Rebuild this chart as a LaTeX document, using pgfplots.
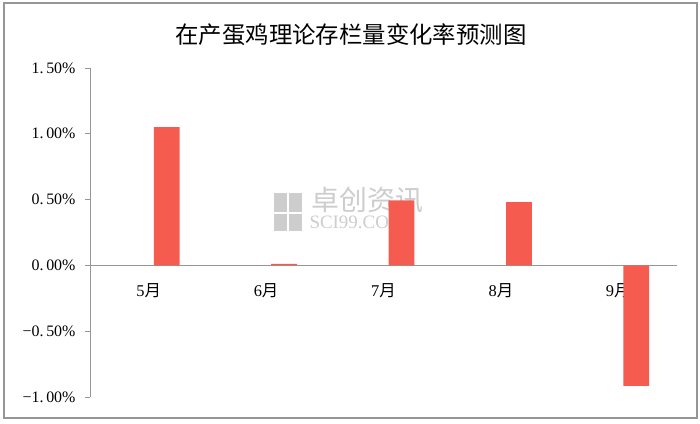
\documentclass[border=0pt]{standalone}
\usepackage{fontspec}
\setmainfont{Liberation Serif}
\newfontfamily\cjk{Noto Sans CJK SC}
\usepackage{pgfplots}
\pgfplotsset{compat=1.18}
\definecolor{barred}{RGB}{245,92,79}
\definecolor{axgray}{RGB}{150,150,150}
\definecolor{wmgray}{RGB}{205,205,205}
\begin{document}
\begin{tikzpicture}[x=1bp,y=1bp]
\path (0,0) rectangle (700,423);
\draw[axgray, line width=2bp] (3.5,5) rectangle (696.5,419.5);
\node[font=\cjk\fontsize{23.5}{25}\selectfont] at (351,388) {在产蛋鸡理论存栏量变化率预测图};
% watermark
\fill[wmgray] (274,211) rectangle (287,230);
\fill[wmgray] (289,211) rectangle (302,230);
\fill[wmgray] (274,192) rectangle (287,209);
\fill[wmgray] (289,192) rectangle (302,209);
\node[wmgray, font=\cjk\fontsize{28}{30}\selectfont, anchor=west] at (308,223) {卓创资讯};
\node[wmgray, font=\fontsize{19}{20}\selectfont, anchor=west] at (306,201) {SCI99.COM};
\begin{axis}[
    at={(90bp,26bp)}, anchor=south west,
    scale only axis, width=587bp, height=329bp,
    xmin=-0.5, xmax=4.5, ymin=-1, ymax=1.5,
    axis y line=left, axis x line=middle,
    axis line style={-, axgray, line width=0.8bp},
    x axis line style={line width=1.6bp},
    hide obscured x ticks=false, hide obscured y ticks=false,
    xtick={0,1,2,3,4},
    xticklabels={5{\cjk 月},6{\cjk 月},7{\cjk 月},8{\cjk 月},9{\cjk 月}},
    xtick style={draw=none},
    xticklabel style={anchor=north, yshift=-10bp, font=\fontsize{16.5}{17}\selectfont},
    ytick={-1,-0.5,0,0.5,1,1.5},
    yticklabels={−1.\,00\%,−0.\,50\%,0.\,00\%,0.\,50\%,1.\,00\%,1.\,50\%},
    ytick style={axgray, line width=0.8bp},
    tick align=outside, major tick length=5bp,
    yticklabel style={font=\fontsize{16}{17}\selectfont, xshift=-6bp},
    ybar, bar width=25.8bp,
]
\addplot[fill=barred, draw=none, bar shift=18bp] coordinates {
    (0,1.05)
    (1,0.012)
    (2,0.495)
    (3,0.48)
    (4,-0.915)
};
\end{axis}
\end{tikzpicture}
\end{document}
